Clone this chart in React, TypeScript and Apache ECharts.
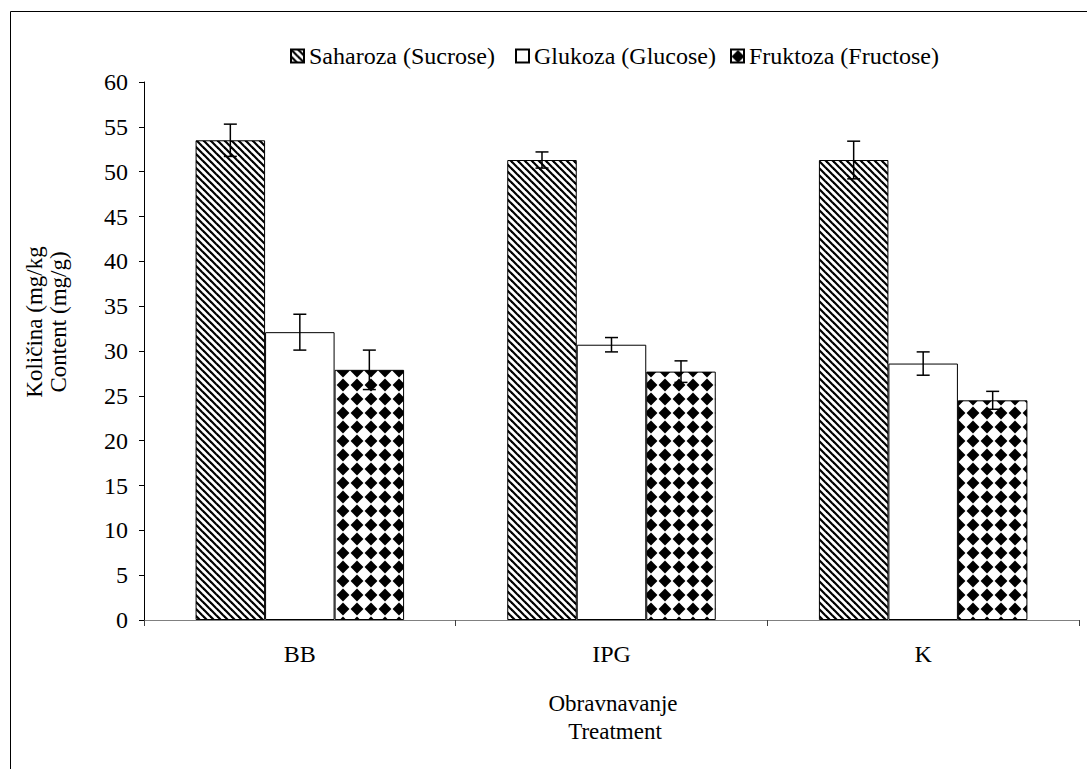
import React, { useEffect, useRef } from 'react';
import * as echarts from 'echarts';

const categories = ['BB', 'IPG', 'K'];
const seriesNames = ['Saharoza (Sucrose)', 'Glukoza (Glucose)', 'Fruktoza (Fructose)'];
const sucrose = [53.5, 51.3, 51.3];
const sucroseErr = [1.8, 0.9, 2.1];
const glucose = [32.1, 30.7, 28.6];
const glucoseErr = [2.0, 0.8, 1.3];
const fructose = [27.9, 27.7, 24.5];
const fructoseErr = [2.2, 1.2, 1.0];
const yAxisTitle = ['Količina (mg/kg', 'Content (mg/g)'];
const xAxisTitle = ['Obravnavanje', 'Treatment'];

const FONT = '"Liberation Serif", "Times New Roman", serif';
const BAR_FRAC = 0.223;

function stripeCanvas() {
  const s = 7;
  const c = document.createElement('canvas');
  c.width = s; c.height = s;
  const ctx = c.getContext('2d')!;
  ctx.fillStyle = '#fff';
  ctx.fillRect(0, 0, s, s);
  ctx.strokeStyle = '#000';
  ctx.lineWidth = 2.2;
  for (const k of [-s, 0, s]) {
    ctx.beginPath();
    ctx.moveTo(k - 1, -1);
    ctx.lineTo(k + s + 1, s + 1);
    ctx.stroke();
  }
  return c;
}

function diamondCanvas() {
  const s = 14;
  const c = document.createElement('canvas');
  c.width = s; c.height = s;
  const ctx = c.getContext('2d')!;
  ctx.fillStyle = '#fff';
  ctx.fillRect(0, 0, s, s);
  ctx.fillStyle = '#000';
  ctx.beginPath();
  ctx.moveTo(7, 0.6);
  ctx.lineTo(13.4, 7);
  ctx.lineTo(7, 13.4);
  ctx.lineTo(0.6, 7);
  ctx.closePath();
  ctx.fill();
  return c;
}

export default function App() {
  const ref = useRef<HTMLDivElement>(null);
  useEffect(() => {
    if (!ref.current) return;
    const chart = echarts.init(ref.current, null, { renderer: 'svg' });
    const stripe = stripeCanvas();
    const diamond = diamondCanvas();
    const fills: any[] = [
      { image: stripe.toDataURL(), repeat: 'repeat', imageWidth: 7, imageHeight: 7 },
      '#ffffff',
      { image: diamond.toDataURL(), repeat: 'repeat', imageWidth: 14, imageHeight: 14 },
    ];
    const values = [sucrose, glucose, fructose];
    const errs = [sucroseErr, glucoseErr, fructoseErr];

    const barSeries = values.map((vals, idx) => ({
      name: seriesNames[idx],
      type: 'bar',
      data: vals,
      barWidth: (BAR_FRAC * 100).toFixed(1) + '%',
      barGap: '0%',
      itemStyle: { color: fills[idx], borderColor: '#000', borderWidth: 1 },
      silent: true,
    }));

    const errSeries = values.map((vals, idx) => ({
      type: 'custom',
      silent: true,
      z: 10,
      data: vals.map((v, i) => [i, v - errs[idx][i], v + errs[idx][i]]),
      encode: { x: 0, y: [1, 2] },
      renderItem: (params: any, api: any) => {
        const i = api.value(0);
        const lo = api.value(1);
        const hi = api.value(2);
        const catW = api.size([1, 0])[0];
        const bw = catW * BAR_FRAC;
        const pLo = api.coord([i, lo]);
        const pHi = api.coord([i, hi]);
        const x = pLo[0] + (idx - 1) * bw;
        const cap = 6.5;
        const st = { stroke: '#000', lineWidth: 1.5 };
        return {
          type: 'group',
          children: [
            { type: 'line', shape: { x1: x, y1: pHi[1], x2: x, y2: pLo[1] }, style: st },
            { type: 'line', shape: { x1: x - cap, y1: pHi[1], x2: x + cap, y2: pHi[1] }, style: st },
            { type: 'line', shape: { x1: x - cap, y1: pLo[1], x2: x + cap, y2: pLo[1] }, style: st },
          ],
        };
      },
    }));

    const legendLefts = [290, 515, 730];
    const legends = seriesNames.map((n, i) => ({
      data: [n],
      left: legendLefts[i],
      top: 44,
      padding: 0,
      itemWidth: 13,
      itemHeight: 13,
      itemGap: 5,
      icon: 'rect',
      selectedMode: false,
      textStyle: { fontFamily: FONT, fontSize: 24, color: '#000', padding: [0, 0, 0, 0] },
    }));

    chart.setOption({
      animation: false,
      backgroundColor: '#fff',
      legend: legends,
      grid: { left: 144, right: 8, top: 82, bottom: 149, containLabel: false },
      xAxis: {
        type: 'category',
        data: categories,
        axisLine: { lineStyle: { color: '#808080', width: 1 } },
        axisTick: { show: true, length: 6, lineStyle: { color: '#404040', width: 1 } },
        axisLabel: { fontFamily: FONT, fontSize: 24, color: '#000', margin: 22 },
        splitLine: { show: false },
      },
      yAxis: {
        type: 'value',
        min: 0,
        max: 60,
        interval: 5,
        axisLine: { show: true, lineStyle: { color: '#000', width: 1 } },
        axisTick: { show: true, length: 5, lineStyle: { color: '#000', width: 1 } },
        axisLabel: { fontFamily: FONT, fontSize: 24, color: '#000', margin: 16 },
        splitLine: { show: false },
      },
      graphic: [
        {
          type: 'rect',
          shape: { x: 10.5, y: 11.5, width: 1200, height: 900 },
          style: { fill: 'none', stroke: '#000', lineWidth: 1 },
          silent: true,
        },
        {
          type: 'text', x: 34, y: 322, rotation: Math.PI / 2,
          style: { text: yAxisTitle[0], font: `23px ${FONT}`, fill: '#000', textAlign: 'center', textVerticalAlign: 'middle' },
        },
        {
          type: 'text', x: 58, y: 322, rotation: Math.PI / 2,
          style: { text: yAxisTitle[1], font: `23px ${FONT}`, fill: '#000', textAlign: 'center', textVerticalAlign: 'middle' },
        },
        {
          type: 'text', x: 613, y: 703,
          style: { text: xAxisTitle[0], font: `23px ${FONT}`, fill: '#000', textAlign: 'center', textVerticalAlign: 'middle' },
        },
        {
          type: 'text', x: 615, y: 731,
          style: { text: xAxisTitle[1], font: `23px ${FONT}`, fill: '#000', textAlign: 'center', textVerticalAlign: 'middle' },
        },
      ],
      series: [...barSeries, ...errSeries],
    });
    return () => chart.dispose();
  }, []);
  return (
    <div
      ref={ref}
      style={{ position: 'absolute', left: 0, top: 0, width: 1087, height: 769 }}
    />
  );
}
